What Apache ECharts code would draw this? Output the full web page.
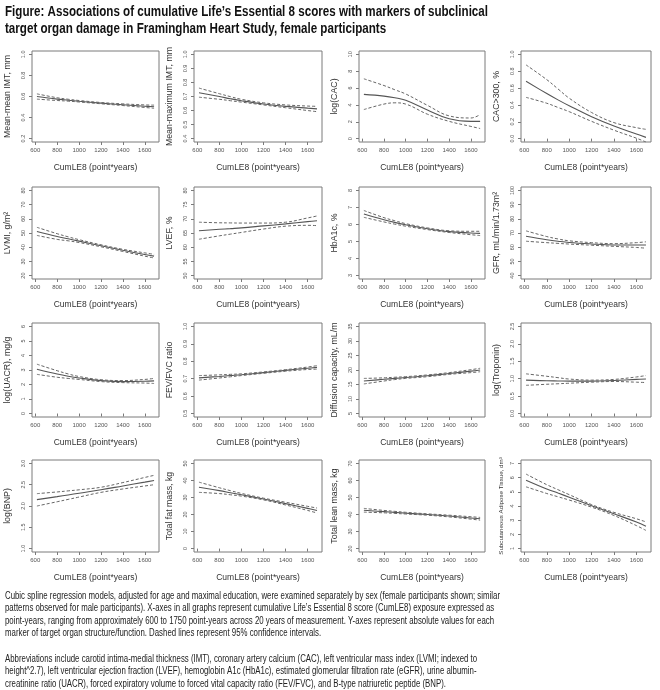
<!DOCTYPE html>
<html><head><meta charset="utf-8">
<script src="https://cdn.jsdelivr.net/npm/echarts@6/dist/echarts.min.js"></script>
<style>html,body{margin:0;padding:0;background:#fff}#c{width:660px;height:690px}</style>
</head><body><div id="c"></div>
<script>
// ---------- data ----------
const cumLE8 = [615, 800, 900, 1000, 1200, 1400, 1600, 1685];
const xTicks = [600, 800, 1000, 1200, 1400, 1600];
const xTitle = 'CumLE8 (point*years)';

const yTitles = [
  'Mean-mean IMT, mm', 'Mean-maximum IMT, mm', 'log(CAC)', 'CAC>300, %',
  'LVMI, g/m\u00B2', 'LVEF, %', 'HbA1c, %', 'GFR, mL/min/1.73m\u00B2',
  'log(UACR), mg/g', 'FEV/FVC ratio', 'Diffusion capacity, mL/m', 'log(Troponin)',
  'log(BNP)', 'Total fat mass, kg', 'Total lean mass, kg', 'Subcutaneous Adipose Tissue, dm\u00B3'
];
const yTicks = [
  [0.2, 0.4, 0.6, 0.8, 1.0], [0.4, 0.5, 0.6, 0.7, 0.8, 0.9, 1.0], [0, 2, 4, 6, 8, 10], [0, 0.2, 0.4, 0.6, 0.8, 1.0],
  [20, 30, 40, 50, 60, 70, 80], [50, 55, 60, 65, 70, 75, 80], [3, 4, 5, 6, 7, 8], [40, 50, 60, 70, 80, 90, 100],
  [0, 1, 2, 3, 4, 5, 6], [0.5, 0.6, 0.7, 0.8, 0.9, 1.0], [5, 10, 15, 20, 25, 30, 35], [0, 0.5, 1.0, 1.5, 2.0, 2.5],
  [1.0, 1.5, 2.0, 2.5, 3.0], [0, 10, 20, 30, 40, 50], [20, 30, 40, 50, 60, 70], [1, 2, 3, 4, 5, 6, 7]
];
const yDecimals = [1, 1, 0, 1, 0, 0, 0, 0, 0, 1, 0, 1, 1, 0, 0, 0];

const imtMean   = [0.600, 0.575, 0.565, 0.555, 0.537, 0.522, 0.508, 0.503];
const imtUpper  = [0.625, 0.588, 0.574, 0.562, 0.543, 0.530, 0.520, 0.518];
const imtLower  = [0.575, 0.562, 0.556, 0.548, 0.531, 0.514, 0.496, 0.488];
const maxImtMean  = [0.727, 0.700, 0.684, 0.670, 0.647, 0.630, 0.617, 0.612];
const maxImtUpper = [0.760, 0.720, 0.699, 0.680, 0.655, 0.640, 0.632, 0.630];
const maxImtLower = [0.695, 0.680, 0.670, 0.660, 0.640, 0.620, 0.600, 0.592];
const cacMean  = [5.25, 5.05, 4.85, 4.55, 3.40, 2.35, 2.05, 2.05];
const cacUpper = [7.10, 6.30, 5.80, 5.30, 3.95, 2.70, 2.45, 2.85];
const cacLower = [3.45, 4.10, 4.25, 4.10, 2.90, 2.05, 1.45, 1.20];
const cac300Mean  = [0.68, 0.535, 0.46, 0.39, 0.26, 0.15, 0.055, 0.015];
const cac300Upper = [0.875, 0.70, 0.59, 0.48, 0.31, 0.19, 0.13, 0.11];
const cac300Lower = [0.49, 0.42, 0.37, 0.32, 0.205, 0.10, 0.005, -0.04];
const lvmiMean  = [51.0, 47.5, 45.9, 44.3, 41.0, 37.8, 34.8, 33.7];
const lvmiUpper = [54.0, 49.5, 47.3, 45.3, 41.7, 38.5, 36.0, 35.0];
const lvmiLower = [48.3, 45.5, 44.5, 43.3, 40.3, 37.0, 33.7, 32.4];
const lvefMean  = [65.8, 66.3, 66.55, 66.8, 67.5, 68.2, 69.0, 69.3];
const lvefUpper = [68.8, 68.6, 68.55, 68.5, 68.5, 68.8, 70.3, 71.0];
const lvefLower = [62.8, 64.0, 64.6, 65.2, 66.4, 67.4, 67.7, 67.6];
const hba1cMean  = [6.62, 6.28, 6.12, 5.98, 5.75, 5.58, 5.50, 5.48];
const hba1cUpper = [6.82, 6.40, 6.22, 6.05, 5.80, 5.63, 5.60, 5.60];
const hba1cLower = [6.42, 6.15, 6.02, 5.90, 5.70, 5.53, 5.40, 5.35];
const gfrMean  = [67.7, 65.3, 64.2, 63.3, 62.3, 61.6, 61.5, 61.5];
const gfrUpper = [71.5, 67.5, 65.8, 64.5, 63.2, 62.5, 63.2, 63.8];
const gfrLower = [64.2, 63.2, 62.7, 62.2, 61.4, 60.6, 59.8, 59.3];
const uacrMean  = [3.05, 2.72, 2.57, 2.45, 2.27, 2.20, 2.22, 2.25];
const uacrUpper = [3.40, 2.95, 2.73, 2.55, 2.33, 2.27, 2.35, 2.42];
const uacrLower = [2.70, 2.50, 2.42, 2.35, 2.20, 2.13, 2.10, 2.07];
const fevMean  = [0.705, 0.713, 0.718, 0.723, 0.735, 0.748, 0.760, 0.765];
const fevUpper = [0.718, 0.722, 0.725, 0.728, 0.739, 0.752, 0.767, 0.775];
const fevLower = [0.692, 0.704, 0.711, 0.718, 0.731, 0.743, 0.753, 0.755];
const dlcoMean  = [16.2, 16.8, 17.1, 17.4, 18.0, 18.8, 19.6, 20.0];
const dlcoUpper = [17.1, 17.3, 17.5, 17.7, 18.3, 19.1, 20.1, 20.6];
const dlcoLower = [15.2, 16.2, 16.7, 17.1, 17.7, 18.5, 19.1, 19.4];
const tropMean  = [0.96, 0.94, 0.935, 0.93, 0.93, 0.95, 0.98, 0.99];
const tropUpper = [1.14, 1.07, 1.03, 0.99, 0.96, 0.98, 1.05, 1.09];
const tropLower = [0.81, 0.84, 0.855, 0.87, 0.90, 0.92, 0.90, 0.89];
const bnpMean  = [2.15, 2.22, 2.26, 2.30, 2.38, 2.47, 2.56, 2.60];
const bnpUpper = [2.29, 2.33, 2.355, 2.38, 2.44, 2.55, 2.67, 2.72];
const bnpLower = [2.00, 2.10, 2.155, 2.21, 2.32, 2.40, 2.47, 2.50];
const fatMean  = [36.0, 34.0, 32.8, 31.6, 29.1, 26.4, 23.6, 22.4];
const fatUpper = [39.0, 35.7, 34.0, 32.4, 29.6, 27.2, 24.8, 23.8];
const fatLower = [33.0, 32.3, 31.6, 30.8, 28.6, 25.6, 22.4, 20.9];
const leanMean  = [42.5, 41.7, 41.25, 40.8, 40.0, 39.1, 38.0, 37.5];
const leanUpper = [43.6, 42.4, 41.85, 41.3, 40.4, 39.6, 38.7, 38.3];
const leanLower = [41.4, 41.0, 40.65, 40.3, 39.6, 38.6, 37.3, 36.7];
const satMean  = [5.82, 5.20, 4.91, 4.62, 4.02, 3.45, 2.87, 2.58];
const satUpper = [6.25, 5.50, 5.15, 4.80, 4.10, 3.55, 3.10, 2.88];
const satLower = [5.35, 4.88, 4.65, 4.42, 3.92, 3.33, 2.62, 2.28];

const panelData = [
  [imtMean, imtUpper, imtLower], [maxImtMean, maxImtUpper, maxImtLower], [cacMean, cacUpper, cacLower], [cac300Mean, cac300Upper, cac300Lower],
  [lvmiMean, lvmiUpper, lvmiLower], [lvefMean, lvefUpper, lvefLower], [hba1cMean, hba1cUpper, hba1cLower], [gfrMean, gfrUpper, gfrLower],
  [uacrMean, uacrUpper, uacrLower], [fevMean, fevUpper, fevLower], [dlcoMean, dlcoUpper, dlcoLower], [tropMean, tropUpper, tropLower],
  [bnpMean, bnpUpper, bnpLower], [fatMean, fatUpper, fatLower], [leanMean, leanUpper, leanLower], [satMean, satUpper, satLower]
];

const titleLines = [
  'Figure: Associations of cumulative Life\u2019s Essential 8 scores with markers of subclinical',
  'target organ damage in Framingham Heart Study, female participants'
];
const captionLines = [
  'Cubic spline regression models, adjusted for age and maximal education, were examined separately by sex (female participants shown; similar',
  'patterns observed for male participants). X-axes in all graphs represent cumulative Life\u2019s Essential 8 score (CumLE8) exposure expressed as',
  'point-years, ranging from approximately 600 to 1750 point-years across 20 years of measurement. Y-axes represent absolute values for each',
  'marker of target organ structure/function. Dashed lines represent 95% confidence intervals.',
  '',
  'Abbreviations include carotid intima-medial thickness (IMT), coronary artery calcium (CAC), left ventricular mass index (LVMI; indexed to',
  'height^2.7), left ventricular ejection fraction (LVEF), hemoglobin A1c (HbA1c), estimated glomerular filtration rate (eGFR), urine albumin-',
  'creatinine ratio (UACR), forced expiratory volume to forced vital capacity ratio (FEV/FVC), and B-type natriuretic peptide (BNP).'
];

// ---------- layout ----------
const SANS = "'Liberation Sans',Arial,Helvetica,sans-serif";
const colLeft = [32, 194, 359, 521];
const colWidth = [127, 128, 126, 130];
const rowTop = [51, 187, 323, 460];
const rowHeight = [91, 92, 94, 92];

function squeeze(text, font, target) {
  const ctx = document.createElement('canvas').getContext('2d');
  ctx.font = font;
  return target / ctx.measureText(text).width;
}
const titleFont = 'bold 15px ' + SANS;
const capFont = '10px ' + SANS;
const titleScale = squeeze(titleLines[0], titleFont, 483);
const capScale = squeeze(captionLines[0], capFont, 495);

const grids = [], xAxes = [], yAxes = [], series = [];
for (let i = 0; i < 16; i++) {
  const r = Math.floor(i / 4), c = i % 4;
  grids.push({ left: colLeft[c], top: rowTop[r], width: colWidth[c], height: rowHeight[r],
    show: true, borderColor: '#7a7a7a', borderWidth: 1, backgroundColor: 'transparent', containLabel: false });
  xAxes.push({ type: 'value', gridIndex: i, min: 570, max: 1730,
    axisLine: { show: false }, splitLine: { show: false },
    axisTick: { show: true, length: 3, customValues: xTicks, lineStyle: { color: '#7a7a7a' } },
    axisLabel: { customValues: xTicks, margin: 5, fontSize: 6, color: '#555', fontFamily: SANS,
      formatter: v => String(v) },
    name: xTitle, nameLocation: 'middle', nameGap: 21,
    nameTextStyle: { fontSize: 8.5, color: '#333', fontFamily: SANS } });
  const t = yTicks[i], span = t[t.length - 1] - t[0];
  const small = i === 15;
  yAxes.push({ type: 'value', gridIndex: i, min: t[0] - 0.04 * span, max: t[t.length - 1] + 0.04 * span,
    axisLine: { show: false }, splitLine: { show: false },
    axisTick: { show: true, length: 3, customValues: t, lineStyle: { color: '#7a7a7a' } },
    axisLabel: { customValues: t, rotate: 90, margin: 6, fontSize: 5.5, color: '#555', fontFamily: SANS,
      formatter: v => Number(v).toFixed(yDecimals[i]) },
    name: yTitles[i], nameLocation: 'middle', nameGap: small ? 17 : 20,
    nameTextStyle: { fontSize: small ? 6.2 : 8.8, color: '#333', fontFamily: SANS } });
  const [m, u, l] = panelData[i];
  const mk = (arr, dashed) => ({ type: 'line', xAxisIndex: i, yAxisIndex: i, symbol: 'none', smooth: 0.4,
    silent: true, clip: true,
    data: cumLE8.map((x, j) => [x, arr[j]]),
    lineStyle: dashed ? { color: '#666', width: 1, type: [3, 2] } : { color: '#555', width: 1.1 } });
  series.push(mk(m, false), mk(u, true), mk(l, true));
}

const graphics = [];
const titleY = [11.5, 29];
titleLines.forEach((s, k) => graphics.push({ type: 'text', x: 5, y: titleY[k], scaleX: titleScale, scaleY: 1,
  style: { text: s, x: 0, y: 0, font: titleFont, fill: '#111', verticalAlign: 'middle', align: 'left' } }));
captionLines.forEach((s, k) => { if (s) graphics.push({ type: 'text', x: 5, y: 596 + k * 12.55, scaleX: capScale, scaleY: 1,
  style: { text: s, x: 0, y: 0, font: capFont, fill: '#222', verticalAlign: 'middle', align: 'left' } }); });

const chart = echarts.init(document.getElementById('c'), null, { renderer: 'canvas' });
chart.setOption({ animation: false, backgroundColor: '#fff', grid: grids, xAxis: xAxes, yAxis: yAxes, series, graphic: graphics });
</script></body></html>
